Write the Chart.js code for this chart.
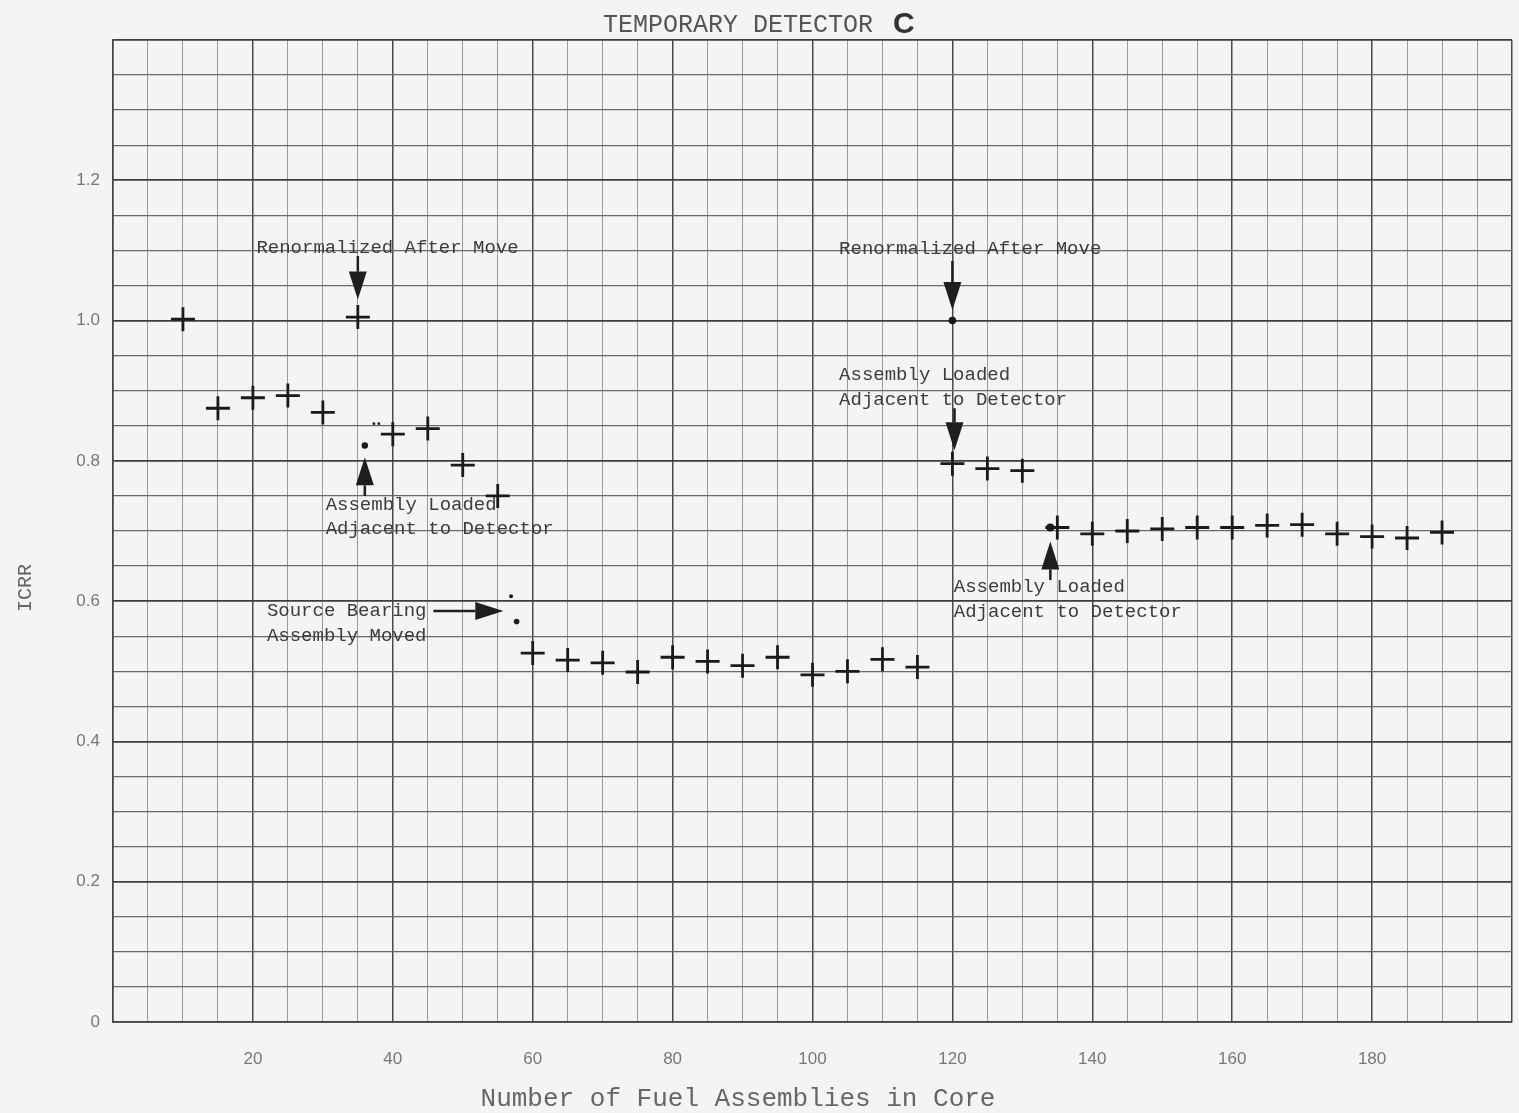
<!DOCTYPE html>
<html>
<head>
<meta charset="utf-8">
<script src="https://cdn.jsdelivr.net/npm/chart.js@4.4.1/dist/chart.umd.min.js"></script>
<style>
  html, body { margin: 0; padding: 0; background: #f4f4f3; }
  #wrap { width: 1519px; height: 1113px; position: relative; }
</style>
</head>
<body>
<div id="wrap"><canvas id="grafico"></canvas></div>
<script>
// Pontos medidos (cruzes) - numero de elementos no nucleo x ICRR
const xCross = [10, 15, 20, 25, 30, 35, 40, 45, 50, 55,
                60, 65, 70, 75, 80, 85, 90, 95, 100, 105, 110, 115,
                120, 125, 130, 135, 140, 145, 150, 155, 160, 165, 170, 175, 180, 185, 190];
const yCross = [1.002, 0.875, 0.890, 0.893, 0.869, 1.005, 0.838, 0.846, 0.794, 0.750,
                0.526, 0.516, 0.512, 0.499, 0.520, 0.514, 0.508, 0.520, 0.495, 0.500, 0.517, 0.506,
                0.796, 0.789, 0.786, 0.705, 0.696, 0.700, 0.703, 0.705, 0.705, 0.708, 0.709, 0.696, 0.692, 0.690, 0.698];

// Pontos isolados (marcas pequenas)
const xDots = [36, 37.3, 38, 56.9, 57.7, 120, 134];
const yDots = [0.822, 0.853, 0.853, 0.607, 0.571, 1.0, 0.705];

// Rotulos dos eixos
const xTickLabels = [20, 40, 60, 80, 100, 120, 140, 160, 180];
const yTickLabels = [0, 0.2, 0.4, 0.6, 0.8, 1.0, 1.2];

// Textos das anotacoes (posicao em unidades do grafico)
const noteText = ['Renormalized After Move', 'Renormalized After Move',
                  'Assembly Loaded', 'Adjacent to Detector',
                  'Assembly Loaded', 'Adjacent to Detector',
                  'Source Bearing', 'Assembly Moved',
                  'Assembly Loaded', 'Adjacent to Detector'];
const noteX = [20.5, 103.8, 103.8, 103.8, 30.4, 30.4, 22.0, 22.0, 120.2, 120.2];
const noteY = [1.104, 1.102, 0.922, 0.887, 0.737, 0.703, 0.586, 0.551, 0.620, 0.585];

// Setas: inicio -> ponta
const arrowX0 = [35, 120, 120.3, 36, 45.8, 134];
const arrowY0 = [1.092, 1.085, 0.875, 0.750, 0.586, 0.630];
const arrowX1 = [35, 120, 120.3, 36, 55.8, 134];
const arrowY1 = [1.030, 1.015, 0.815, 0.805, 0.586, 0.685];

const MONO = '"Liberation Mono", "DejaVu Sans Mono", monospace';

const crossPts = xCross.map((v, i) => ({ x: v, y: yCross[i] }));
const dotPts = xDots.map((v, i) => ({ x: v, y: yDots[i] }));

function isMult(v, step) {
    return Math.abs(v / step - Math.round(v / step)) < 1e-6;
}

const anotacoes = {
    id: 'anotacoes',
    afterDatasetsDraw(chart) {
        const { ctx, scales: { x, y } } = chart;
        ctx.save();
        ctx.font = '19px ' + MONO;
        ctx.fillStyle = '#3c3c3c';
        ctx.textBaseline = 'middle';
        ctx.textAlign = 'left';
        noteText.forEach((t, i) => {
            ctx.fillText(t, x.getPixelForValue(noteX[i]), y.getPixelForValue(noteY[i]));
        });

        // setas com ponta cheia
        ctx.strokeStyle = '#1e1e1e';
        ctx.fillStyle = '#1e1e1e';
        ctx.lineWidth = 2.5;
        for (let i = 0; i < arrowX0.length; i++) {
            const x0 = x.getPixelForValue(arrowX0[i]), y0 = y.getPixelForValue(arrowY0[i]);
            const x1 = x.getPixelForValue(arrowX1[i]), y1 = y.getPixelForValue(arrowY1[i]);
            const ang = Math.atan2(y1 - y0, x1 - x0);
            const len = 28, hw = 9;
            const bx = x1 - len * Math.cos(ang), by = y1 - len * Math.sin(ang);
            ctx.beginPath();
            ctx.moveTo(x0, y0);
            ctx.lineTo(bx, by);
            ctx.stroke();
            ctx.beginPath();
            ctx.moveTo(x1, y1);
            ctx.lineTo(bx - hw * Math.sin(ang), by + hw * Math.cos(ang));
            ctx.lineTo(bx + hw * Math.sin(ang), by - hw * Math.cos(ang));
            ctx.closePath();
            ctx.fill();
        }
        ctx.restore();
    },
    afterDraw(chart) {
        const ctx = chart.ctx;
        ctx.save();
        ctx.textBaseline = 'middle';
        // titulo
        ctx.font = '25px ' + MONO;
        ctx.fillStyle = '#555';
        ctx.textAlign = 'left';
        ctx.fillText('TEMPORARY DETECTOR', 603, 25);
        ctx.font = 'bold 30px "Liberation Sans", Arial, sans-serif';
        ctx.fillStyle = '#333';
        ctx.fillText('C', 893, 25);
        // titulo eixo X
        ctx.font = '26px ' + MONO;
        ctx.fillStyle = '#666';
        ctx.textAlign = 'center';
        ctx.fillText('Number of Fuel Assemblies in Core', 738, 1099);
        // titulo eixo Y
        ctx.translate(26, 588);
        ctx.rotate(-Math.PI / 2);
        ctx.font = '20px ' + MONO;
        ctx.fillText('ICRR', 0, 0);
        ctx.restore();
    }
};

const ctx = document.getElementById('grafico').getContext('2d');
new Chart(ctx, {
    type: 'scatter',
    data: {
        datasets: [
            {
                label: 'ICRR',
                data: crossPts,
                pointStyle: 'cross',
                pointRadius: 12,
                pointBorderWidth: 2.8,
                pointBorderColor: '#1a1a1a',
                pointHoverRadius: 12
            },
            {
                label: 'marcas',
                data: dotPts,
                pointStyle: 'circle',
                pointRadius: [3.2, 1.4, 1.4, 2, 2.8, 3.8, 4],
                pointBorderWidth: 0,
                pointBackgroundColor: '#1a1a1a',
                pointBorderColor: '#1a1a1a'
            }
        ]
    },
    options: {
        responsive: true,
        maintainAspectRatio: false,
        animation: false,
        events: [],
        layout: { autoPadding: false, padding: { top: 40, right: 7, left: 0, bottom: 0 } },
        plugins: {
            legend: { display: false },
            title: { display: false },
            tooltip: { enabled: false }
        },
        scales: {
            x: {
                type: 'linear',
                min: 0,
                max: 200,
                afterFit: (s) => { s.height = 91; s.paddingLeft = 0; s.paddingRight = 0; },
                border: { display: true, color: '#444', width: 1.5 },
                grid: {
                    drawTicks: false,
                    color: (c) => isMult(c.tick.value, 20) ? '#4a4a4a' : '#9a9a9a',
                    lineWidth: (c) => isMult(c.tick.value, 20) ? 1.5 : 1
                },
                ticks: {
                    stepSize: 5,
                    autoSkip: false,
                    maxRotation: 0,
                    padding: 27,
                    color: '#777',
                    font: { family: '"Liberation Sans", Arial, sans-serif', size: 17 },
                    callback: (v) => {
                        const t = xTickLabels.find(k => Math.abs(k - v) < 1e-6);
                        return t === undefined ? '' : String(t);
                    }
                }
            },
            y: {
                min: 0,
                max: 1.4,
                afterFit: (s) => { s.width = 113; s.paddingTop = 0; s.paddingBottom = 0; },
                border: { display: true, color: '#444', width: 1.5 },
                grid: {
                    drawTicks: false,
                    color: (c) => isMult(c.tick.value, 0.2) ? '#3e3e3e' : '#6a6a6a',
                    lineWidth: (c) => isMult(c.tick.value, 0.2) ? 1.7 : 1.3
                },
                ticks: {
                    stepSize: 0.05,
                    autoSkip: false,
                    padding: 13,
                    color: '#777',
                    font: { family: '"Liberation Sans", Arial, sans-serif', size: 17 },
                    callback: (v) => {
                        const t = yTickLabels.find(k => Math.abs(k - v) < 1e-6);
                        if (t === undefined) return '';
                        return t === 0 ? '0' : t.toFixed(1);
                    }
                }
            }
        }
    },
    plugins: [anotacoes]
});
</script>
</body>
</html>
